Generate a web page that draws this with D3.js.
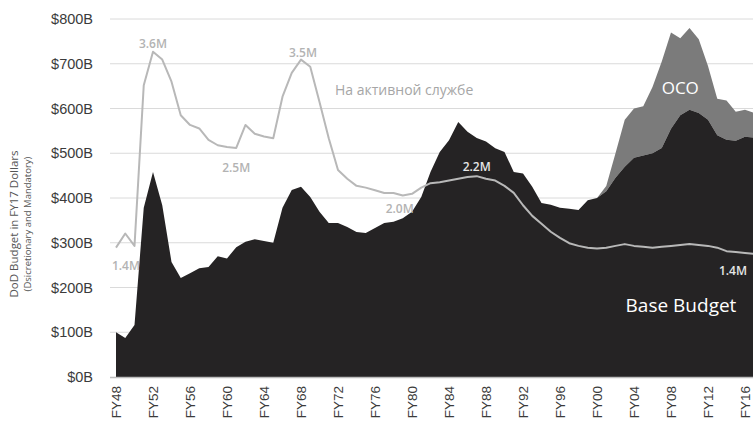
<!DOCTYPE html>
<html lang="ru">
<head>
<meta charset="UTF-8">
<title>DoD Budget</title>
<script src="https://d3js.org/d3.v7.min.js"></script>
<style>
    body { margin: 0; background: #fff; }
    svg { display: block; font-family: "Open Sans", Lato, sans-serif; }
    .tick text { fill: #3b3b3b; }
</style>
</head>
<body>
<svg id="chart" width="753" height="434"></svg>
<script>
// fiscal years FY48..FY17
var years = d3.range(1948, 2018);

// base budget, $B (FY17 dollars)
var baseBudget = [
    100, 87, 116, 378, 458, 384, 257, 221, 232, 243,
    246, 270, 265, 290, 302, 308, 304, 300, 378, 418,
    425, 402, 369, 344, 344, 335, 324, 322, 333, 344,
    347, 355, 369, 402, 458, 503, 529, 570, 548, 534,
    526, 511, 503, 458, 455, 425, 389, 385, 378, 376,
    373, 395, 400, 415, 445, 470, 490, 495, 500, 512,
    555, 585, 597, 590, 575, 540, 530, 528, 537, 535
];

// overseas contingency operations, $B
var ocoBudget = [
    0, 0, 0, 0, 0, 0, 0, 0, 0, 0,
    0, 0, 0, 0, 0, 0, 0, 0, 0, 0,
    0, 0, 0, 0, 0, 0, 0, 0, 0, 0,
    0, 0, 0, 0, 0, 0, 0, 0, 0, 0,
    0, 0, 0, 0, 0, 0, 0, 0, 0, 0,
    0, 0, 0, 12, 55, 105, 110, 110, 148, 193,
    215, 172, 183, 165, 120, 82, 88, 65, 60, 55
];

// active duty personnel, millions
var activeDuty = [
    1.38, 1.54, 1.40, 3.22, 3.60, 3.51, 3.26, 2.88, 2.77, 2.73,
    2.60, 2.54, 2.52, 2.51, 2.77, 2.67, 2.64, 2.62, 3.09, 3.36,
    3.51, 3.43, 3.03, 2.62, 2.26, 2.16, 2.08, 2.06, 2.03, 2.00,
    2.00, 1.97, 1.99, 2.06, 2.11, 2.12, 2.14, 2.16, 2.18, 2.19,
    2.16, 2.14, 2.08, 2.00, 1.86, 1.74, 1.65, 1.56, 1.49, 1.43,
    1.40, 1.38, 1.37, 1.38, 1.40, 1.42, 1.40, 1.39, 1.38, 1.39,
    1.40, 1.41, 1.42, 1.41, 1.40, 1.38, 1.34, 1.33, 1.32, 1.31
];

var yTicks = [0, 100, 200, 300, 400, 500, 600, 700, 800];
var xTicks = d3.range(1948, 2017, 4);

// personnel labels: year + text
var dutyLabels = [
    { year: 1948, text: "1.4M", dx: 10, dy: 18, fill: "#b3b3b3" },
    { year: 1952, text: "3.6M", dx: 0, dy: -8, fill: "#b3b3b3" },
    { year: 1961, text: "2.5M", dx: 0, dy: 20, fill: "#b3b3b3" },
    { year: 1968, text: "3.5M", dx: 2, dy: -7, fill: "#b3b3b3" },
    { year: 1979, text: "2.0M", dx: -3, dy: 13, fill: "#b3b3b3" },
    { year: 1987, text: "2.2M", dx: 0, dy: -9, fill: "#e6e6e6" },
    { year: 2016, text: "1.4M", dx: -12, dy: 18, fill: "#e6e6e6" }
];

var svg = d3.select("#chart");

var x = d3.scaleLinear().domain([1948, 2017]).range([116, 754.25]);
var y = d3.scaleLinear().domain([0, 800]).range([377, 19]);
// personnel on a hidden secondary scale
var yP = d3.scaleLinear().domain([1.4, 3.6]).range([y(293), y(727)]);

var rows = years.map(function (yr, i) {
    return { year: yr, base: baseBudget[i], oco: ocoBudget[i], duty: activeDuty[i] };
});

// grid
svg.append("g")
    .selectAll("line")
    .data(yTicks.filter(function (d) { return d > 0; }))
    .enter().append("line")
    .attr("x1", 110).attr("x2", 753)
    .attr("y1", function (d) { return y(d); })
    .attr("y2", function (d) { return y(d); })
    .attr("stroke", "#dadada")
    .attr("stroke-width", 1);

// OCO on top of base
svg.append("path")
    .datum(rows)
    .attr("fill", "#7b7b7b")
    .attr("d", d3.area()
        .x(function (d) { return x(d.year); })
        .y0(function (d) { return y(d.base); })
        .y1(function (d) { return y(d.base + d.oco); }));

svg.append("path")
    .datum(rows)
    .attr("fill", "#252324")
    .attr("d", d3.area()
        .x(function (d) { return x(d.year); })
        .y0(y(0))
        .y1(function (d) { return y(d.base); }));

// baseline
svg.append("line")
    .attr("x1", 110).attr("x2", 753)
    .attr("y1", y(0) + 0.5).attr("y2", y(0) + 0.5)
    .attr("stroke", "#bdbdbd").attr("stroke-width", 1.5);

// active duty line
svg.append("path")
    .datum(rows)
    .attr("fill", "none")
    .attr("stroke", "#b8b8b8")
    .attr("stroke-width", 2)
    .attr("stroke-linejoin", "round")
    .attr("d", d3.line()
        .x(function (d) { return x(d.year); })
        .y(function (d) { return yP(d.duty); }));

// y axis
var yAxis = svg.append("g")
    .attr("transform", "translate(110,0)")
    .call(d3.axisLeft(y).tickValues(yTicks).tickSize(0).tickPadding(17)
        .tickFormat(function (d) { return "$" + d + "B"; }));
yAxis.select(".domain").remove();
yAxis.selectAll("text").style("font-size", "14.5px");

// x axis
var xAxis = svg.append("g")
    .attr("transform", "translate(0," + y(0) + ")")
    .call(d3.axisBottom(x).tickValues(xTicks).tickSize(0)
        .tickFormat(function (d) { return "FY" + String(d).slice(2); }));
xAxis.select(".domain").remove();
xAxis.selectAll("text")
    .style("font-size", "13.5px")
    .attr("text-anchor", "end")
    .attr("transform", "rotate(-90)")
    .attr("x", -9)
    .attr("y", 0)
    .attr("dy", "0.35em");

// y axis title
var title = svg.append("g").attr("transform", "translate(14,224) rotate(-90)");
title.append("text")
    .attr("text-anchor", "middle")
    .attr("dy", "0.35em")
    .style("font-size", "11.5px")
    .attr("fill", "#555")
    .text("DoD Budget in FY17 Dollars");
title.append("text")
    .attr("y", 14)
    .attr("text-anchor", "middle")
    .attr("dy", "0.35em")
    .style("font-size", "9.5px")
    .attr("fill", "#555")
    .text("(Dsicretionary and Mandatory)");

// personnel labels
svg.append("g")
    .selectAll("text")
    .data(dutyLabels)
    .enter().append("text")
    .attr("x", function (d) { return x(d.year) + d.dx; })
    .attr("y", function (d) { return yP(activeDuty[d.year - 1948]) + d.dy; })
    .attr("text-anchor", "middle")
    .attr("dy", "0.35em")
    .attr("fill", function (d) { return d.fill; })
    .style("font-size", "12px")
    .style("font-weight", "600")
    .text(function (d) { return d.text; });

svg.append("text")
    .attr("x", 335).attr("y", 90)
    .attr("dy", "0.35em")
    .attr("fill", "#a6a6a6")
    .style("font-size", "14px")
    .text("На активной службе");

svg.append("text")
    .attr("x", x(2009)).attr("y", 88)
    .attr("text-anchor", "middle")
    .attr("dy", "0.35em")
    .attr("fill", "#fff")
    .style("font-size", "17px")
    .text("OCO");

svg.append("text")
    .attr("x", 681).attr("y", 305)
    .attr("text-anchor", "middle")
    .attr("dy", "0.35em")
    .attr("fill", "#fff")
    .style("font-size", "19px")
    .text("Base Budget");
</script>
</body>
</html>
